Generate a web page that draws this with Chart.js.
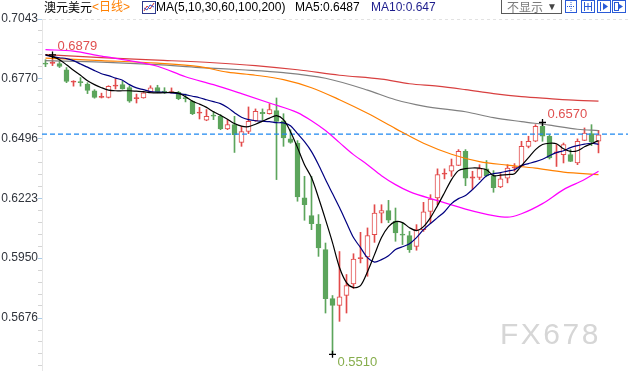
<!DOCTYPE html>
<html>
<head>
<meta charset="utf-8">
<script src="https://cdn.jsdelivr.net/npm/chart.js@4.4.0/dist/chart.umd.min.js"></script>
<style>
  html, body { margin: 0; padding: 0; background: #fff; }
  #wrap { position: relative; width: 628px; height: 371px; overflow: hidden; font-family: "Liberation Sans", Arial, "Noto Sans CJK SC", sans-serif; }
  #box { position: absolute; left: 0; top: 0; width: 628px; height: 371px; }
  .t { position: absolute; top: 0; font-size: 12px; line-height: 14px; white-space: nowrap; color: #000; }
  .ico { position: absolute; top: 0; }
</style>
</head>
<body>
<div id="wrap">
  <div id="box"><canvas id="chartAud"></canvas></div>

  <div class="t" style="left:44px;font-family:'Noto Sans CJK SC',sans-serif;">澳元美元</div>
  <div class="t" style="left:92px;color:#ff7f00;">&lt;日线&gt;</div>
  <svg class="ico" style="left:142px;top:1px" width="14" height="13">
    <rect x="0.5" y="0.5" width="13" height="12" fill="#fff" stroke="#2f3a8c"/>
    <polyline points="2,10 5,5 8,8 12,2" fill="none" stroke="#d03030"/>
    <polyline points="2,7 5,9 8,4 12,6" fill="none" stroke="#3050d0"/>
  </svg>
  <div class="t" style="left:156px;">MA(5,10,30,60,100,200)</div>
  <div class="t" style="left:295px;">MA5:0.6487</div>
  <div class="t" style="left:371px;color:#1c1c8c;">MA10:0.647</div>

  <div style="position:absolute;left:501px;top:-1px;width:59px;height:13px;border:1px solid #5a5a5a;">
    <span style="position:absolute;left:5px;top:0;font-size:12px;line-height:13px;color:#7a7a7a;font-family:'Noto Sans CJK SC',sans-serif;">不显示</span>
    <span style="position:absolute;left:45px;top:0;font-size:10px;line-height:13px;color:#444;">▼</span>
  </div>
  <svg class="ico" style="left:565px" width="12" height="13">
    <rect x="0.5" y="0.5" width="11" height="12" fill="#fff" stroke="#2a5bd7"/>
    <line x1="6" y1="2" x2="6" y2="11" stroke="#2a5bd7" stroke-dasharray="1,1"/>
    <line x1="2" y1="6.5" x2="10" y2="6.5" stroke="#2a5bd7" stroke-dasharray="1,1"/>
  </svg>
  <svg class="ico" style="left:581px" width="14" height="13">
    <rect x="0.5" y="0.5" width="13" height="12" fill="#fff" stroke="#2a5bd7"/>
    <line x1="3.5" y1="2" x2="3.5" y2="11" stroke="#2a5bd7"/>
    <line x1="10.5" y1="2" x2="10.5" y2="11" stroke="#2a5bd7"/>
    <line x1="4" y1="6.5" x2="10" y2="6.5" stroke="#2a5bd7"/>
    <line x1="7" y1="3" x2="7" y2="10" stroke="#2a5bd7"/>
  </svg>
  <svg class="ico" style="left:597px" width="14" height="13">
    <rect x="0.5" y="0.5" width="13" height="12" fill="#fff" stroke="#2a5bd7"/>
    <line x1="3.5" y1="2" x2="3.5" y2="11" stroke="#2a5bd7"/>
    <polygon points="6,3 11,6.5 6,10" fill="#2a5bd7"/>
  </svg>
  <svg class="ico" style="left:612px" width="14" height="13">
    <rect x="0.5" y="0.5" width="13" height="12" fill="#fff" stroke="#2a5bd7"/>
    <rect x="2.5" y="2.5" width="4" height="8" fill="none" stroke="#2a5bd7"/>
    <polygon points="7,4 11,6.5 7,9" fill="#2a5bd7"/>
  </svg>

  <div style="position:absolute;left:500px;top:319px;font-size:30px;line-height:30px;color:#d6d6d6;letter-spacing:2.5px;">FX678</div>
</div>

<script>
// K线数据 (日线), 从左到右
const opens = [
  0.6841, 0.6840, 0.6839, 0.6811, 0.6754, 0.6757, 0.6746, 0.6715, 0.6685, 0.6685,
  0.6736, 0.6743, 0.6730, 0.6679, 0.6682, 0.6708, 0.6730, 0.6713, 0.6706, 0.6708,
  0.6683, 0.6667, 0.6613, 0.6580, 0.6603, 0.6598, 0.6540, 0.6560, 0.6479, 0.6529,
  0.6578, 0.6616, 0.6610, 0.6624, 0.6578, 0.6495, 0.6476, 0.6225, 0.6144, 0.6106,
  0.5989, 0.5765, 0.5734, 0.5780, 0.5832, 0.5948, 0.5955, 0.6057, 0.6156, 0.6167,
  0.6118, 0.6060, 0.6053, 0.6004, 0.6080, 0.6164, 0.6225, 0.6334, 0.6347, 0.6374,
  0.6438, 0.6316, 0.6319, 0.6358, 0.6327, 0.6275, 0.6316, 0.6362, 0.6373, 0.6461,
  0.6484, 0.6552, 0.6507, 0.6431, 0.6423, 0.6423, 0.6385, 0.6488, 0.6519, 0.6484
];
const highs = [
  0.6857, 0.6879, 0.6857, 0.6821, 0.6761, 0.6775, 0.6752, 0.6720, 0.6704, 0.6738,
  0.6769, 0.6758, 0.6738, 0.6700, 0.6712, 0.6738, 0.6740, 0.6729, 0.6728, 0.6712,
  0.6700, 0.6670, 0.6639, 0.6629, 0.6621, 0.6606, 0.6583, 0.6598, 0.6552, 0.6641,
  0.6632, 0.6632, 0.6656, 0.6682, 0.6610, 0.6537, 0.6487, 0.6324, 0.6324, 0.6149,
  0.6019, 0.5779, 0.5980, 0.5875, 0.5970, 0.6068, 0.6088, 0.6194, 0.6194, 0.6214,
  0.6179, 0.6113, 0.6072, 0.6103, 0.6205, 0.6240, 0.6358, 0.6358, 0.6403, 0.6446,
  0.6446, 0.6347, 0.6377, 0.6396, 0.6350, 0.6336, 0.6377, 0.6382, 0.6484, 0.6507,
  0.6560, 0.6570, 0.6514, 0.6469, 0.6476, 0.6446, 0.6495, 0.6545, 0.6560, 0.6534
];
const lows = [
  0.6825, 0.6830, 0.6821, 0.6752, 0.6736, 0.6736, 0.6702, 0.6681, 0.6682, 0.6682,
  0.6723, 0.6722, 0.6662, 0.6659, 0.6681, 0.6706, 0.6706, 0.6702, 0.6704, 0.6674,
  0.6664, 0.6606, 0.6586, 0.6578, 0.6583, 0.6537, 0.6537, 0.6433, 0.6461, 0.6519,
  0.6575, 0.6583, 0.6608, 0.6309, 0.6461, 0.6475, 0.6210, 0.6123, 0.6080, 0.5958,
  0.5699, 0.5510, 0.5661, 0.5699, 0.5811, 0.5928, 0.5867, 0.6022, 0.6111, 0.6112,
  0.6027, 0.6012, 0.5976, 0.5986, 0.6072, 0.6111, 0.6194, 0.6312, 0.6324, 0.6373,
  0.6281, 0.6263, 0.6309, 0.6322, 0.6251, 0.6272, 0.6294, 0.6347, 0.6367, 0.6454,
  0.6482, 0.6484, 0.6403, 0.6369, 0.6385, 0.6391, 0.6377, 0.6487, 0.6464, 0.6431
];
const closes = [
  0.6837, 0.6843, 0.6826, 0.6758, 0.6759, 0.6752, 0.6717, 0.6685, 0.6689, 0.6735,
  0.6741, 0.6723, 0.6667, 0.6683, 0.6705, 0.6728, 0.6708, 0.6709, 0.6711, 0.6679,
  0.6679, 0.6610, 0.6618, 0.6598, 0.6599, 0.6540, 0.6560, 0.6514, 0.6528, 0.6575,
  0.6621, 0.6610, 0.6629, 0.6575, 0.6499, 0.6479, 0.6230, 0.6194, 0.6108, 0.5997,
  0.5765, 0.5734, 0.5773, 0.5824, 0.5946, 0.5952, 0.6053, 0.6156, 0.6167, 0.6123,
  0.6065, 0.6055, 0.5989, 0.6080, 0.6161, 0.6220, 0.6332, 0.6338, 0.6373, 0.6438,
  0.6316, 0.6321, 0.6359, 0.6327, 0.6272, 0.6312, 0.6362, 0.6367, 0.6461, 0.6484,
  0.6552, 0.6507, 0.6408, 0.6435, 0.6469, 0.6392, 0.6484, 0.6522, 0.6481, 0.6514
];

// 均线
const ma5 = [
  0.6880, 0.6871, 0.6857, 0.6834, 0.6809, 0.6786, 0.6761, 0.6743, 0.6729, 0.6718,
  0.6715, 0.6715, 0.6715, 0.6713, 0.6711, 0.6706, 0.6705, 0.6706, 0.6708, 0.6704,
  0.6688, 0.6667, 0.6654, 0.6639, 0.6619, 0.6603, 0.6585, 0.6565, 0.6553, 0.6551,
  0.6562, 0.6576, 0.6590, 0.6601, 0.6583, 0.6528, 0.6455, 0.6377, 0.6318, 0.6226,
  0.6126, 0.6021, 0.5907, 0.5838, 0.5815, 0.5824, 0.5888, 0.5966, 0.6044, 0.6094,
  0.6117, 0.6112, 0.6089, 0.6076, 0.6094, 0.6135, 0.6190, 0.6249, 0.6309, 0.6350,
  0.6359, 0.6362, 0.6361, 0.6354, 0.6327, 0.6329, 0.6332, 0.6336, 0.6373, 0.6409,
  0.6446, 0.6469, 0.6475, 0.6473, 0.6450, 0.6438, 0.6441, 0.6459, 0.6473, 0.6487
];
const ma10 = [
  0.6878, 0.6871, 0.6866, 0.6862, 0.6853, 0.6837, 0.6823, 0.6807, 0.6793, 0.6784,
  0.6773, 0.6763, 0.6743, 0.6728, 0.6720, 0.6711, 0.6709, 0.6708, 0.6705, 0.6702,
  0.6697, 0.6690, 0.6683, 0.6674, 0.6665, 0.6656, 0.6638, 0.6615, 0.6594, 0.6583,
  0.6578, 0.6576, 0.6574, 0.6569, 0.6568, 0.6555, 0.6519, 0.6482, 0.6437, 0.6377,
  0.6309, 0.6245, 0.6181, 0.6112, 0.6044, 0.5998, 0.5952, 0.5932, 0.5943, 0.5961,
  0.5989, 0.6002, 0.6016, 0.6044, 0.6080, 0.6108, 0.6135, 0.6162, 0.6199, 0.6222,
  0.6236, 0.6263, 0.6295, 0.6327, 0.6336, 0.6341, 0.6348, 0.6354, 0.6373, 0.6382,
  0.6391, 0.6402, 0.6418, 0.6432, 0.6441, 0.6455, 0.6464, 0.6471, 0.6475, 0.6470
];
const ma30At = [0, 4, 8, 12, 16, 20, 24, 28, 32, 36, 38, 40, 42, 44, 46, 48, 50, 52, 56, 60, 64, 66, 68, 71, 74, 77, 79];
const ma30 = [0.6903, 0.6896, 0.6873, 0.6853, 0.6827, 0.6779, 0.6743, 0.6702, 0.6659, 0.6615, 0.6578, 0.6533, 0.6478, 0.6423,
  0.6377, 0.6327, 0.6286, 0.6254, 0.6213, 0.6174, 0.6144, 0.6137, 0.6153, 0.6199, 0.6263, 0.6309, 0.6347];
const ma60At = [0, 8, 16, 22, 26, 30, 34, 38, 42, 46, 50, 54, 58, 62, 66, 70, 74, 79];
const ma60 = [0.6864, 0.6853, 0.6841, 0.6825, 0.6800, 0.6786, 0.6766, 0.6729, 0.6674, 0.6612, 0.6542, 0.6475, 0.6425, 0.6391,
  0.6375, 0.6361, 0.6343, 0.6332];
const ma100At = [0, 8, 16, 22, 28, 34, 40, 46, 50, 54, 60, 64, 68, 72, 76, 79];
const ma100 = [0.6853, 0.6846, 0.6834, 0.6821, 0.6811, 0.6798, 0.6772, 0.6718, 0.6674, 0.6645, 0.6619, 0.6592, 0.6574, 0.6558, 0.6539, 0.6533];
const ma200At = [0, 8, 16, 24, 30, 36, 42, 48, 52, 56, 60, 64, 68, 72, 76, 79];
const ma200 = [0.6880, 0.6866, 0.6855, 0.6843, 0.6830, 0.6811, 0.6786, 0.6768, 0.6747, 0.6736, 0.6720, 0.6702, 0.6688, 0.6679, 0.6671, 0.6668];

// 最高/最低标记
const markAt = [1, 71, 41];
const markSide = ['high', 'high', 'low'];
const lastPrice = 0.6517;

// 纵轴刻度
const tickLabels = ['0.7043', '0.6770', '0.6496', '0.6223', '0.5950', '0.5676'];
const yMax = 0.7043;
const yMin = 0.5434;
const xMax = -0.5 + 586 / 7;

const RED = '#e24a4a';
const GREEN = '#5ca55c';

const up = closes.map((c, i) => c >= opens[i]);
const pts = (at, vals) => at.map((x, k) => ({ x: x, y: vals[k] }));
const seq = vals => vals.map((v, i) => ({ x: i, y: v }));

function maLine(data, color, smooth) {
  return {
    type: 'line', data: data, borderColor: color, borderWidth: 1.2,
    pointRadius: 0, fill: false, order: 0,
    tension: smooth ? 0 : 0.3,
    cubicInterpolationMode: smooth ? 'monotone' : 'default'
  };
}

// 最高最低价文字
const peakLabels = {
  id: 'peakLabels',
  afterDatasetsDraw(chart) {
    const { ctx, scales: { x, y } } = chart;
    ctx.save();
    ctx.font = '13px "Liberation Sans", Arial, sans-serif';
    ctx.textBaseline = 'middle';
    ctx.textAlign = 'left';
    markAt.forEach((i, k) => {
      const high = markSide[k] === 'high';
      const v = high ? highs[i] : lows[i];
      ctx.fillStyle = high ? '#e05050' : '#86ad4c';
      ctx.fillText(v.toFixed(4), x.getPixelForValue(i) + 5, y.getPixelForValue(v) + (high ? -8 : 8.5));
    });
    ctx.restore();
  }
};

const ctx = document.getElementById('chartAud').getContext('2d');
new Chart(ctx, {
  type: 'bar',
  data: {
    datasets: [
      maLine(seq(ma5), '#000000', false),
      maLine(seq(ma10), '#000080', false),
      maLine(pts(ma30At, ma30), '#ff00ff', true),
      maLine(pts(ma60At, ma60), '#ff8000', true),
      maLine(pts(ma100At, ma100), '#808080', true),
      maLine(pts(ma200At, ma200), '#d84040', true),
      {
        type: 'line',
        data: [{ x: -0.5, y: lastPrice }, { x: xMax, y: lastPrice }],
        borderColor: '#1e88f0', borderDash: [5, 3], borderWidth: 1.3,
        pointRadius: 0, order: 0
      },
      {
        type: 'line', showLine: false,
        data: markAt.map((i, k) => ({ x: i, y: markSide[k] === 'high' ? highs[i] : lows[i] })),
        pointStyle: 'cross', pointRadius: 3.5, pointHoverRadius: 0,
        borderColor: '#000', borderWidth: 1.3, order: -1
      },
      {
        data: opens.map((o, i) => ({ x: i, y: [o, closes[i]] })),
        backgroundColor: up.map((u, i) => u ? (Math.abs(closes[i] - opens[i]) < 0.0007 ? RED : '#ffffff') : GREEN),
        borderColor: up.map(u => u ? RED : GREEN),
        borderWidth: 1, borderSkipped: false,
        barThickness: 5, minBarLength: 1, grouped: false, order: 1
      },
      {
        data: highs.map((h, i) => ({ x: i, y: [lows[i], h] })),
        backgroundColor: up.map(u => u ? RED : GREEN),
        barThickness: 1, grouped: false, order: 2
      }
    ]
  },
  options: {
    responsive: true,
    maintainAspectRatio: false,
    devicePixelRatio: 1,
    animation: false,
    events: [],
    layout: { autoPadding: false, padding: { top: 19, left: 0, right: 0, bottom: 0 } },
    plugins: { legend: { display: false }, tooltip: { enabled: false } },
    scales: {
      x: { type: 'linear', display: false, min: -0.5, max: xMax, offset: false, grid: { offset: false } },
      y: {
        type: 'linear', position: 'left', min: yMin, max: yMax, beginAtZero: false,
        afterBuildTicks: scale => {
          const major = tickLabels.map(Number);
          const step = (major[0] - major[major.length - 1]) / (major.length - 1) / 5;
          const ticks = [];
          major.forEach((v, k) => {
            for (let j = 0; j < 5; j++) {
              const t = v - j * step;
              if (t > yMin) ticks.push({ value: t, isMajor: j === 0, label: tickLabels[k] });
            }
          });
          scale.ticks = ticks.sort((a, b) => a.value - b.value);
        },
        afterFit: scale => { scale.width = 42; scale.paddingTop = 0; scale.paddingBottom = 0; },
        ticks: {
          autoSkip: false, padding: 0, color: '#30343c',
          font: { family: '"Liberation Sans", Arial, sans-serif', size: 12 },
          callback: (v, i, t) => t[i].isMajor ? t[i].label : ''
        },
        grid: {
          color: c => c.tick && c.tick.value === yMax ? '#e2e2e2' : 'rgba(0,0,0,0)',
          tickColor: c => c.tick && c.tick.isMajor ? '#a9cbe8' : '#d4d4d4',
          tickLength: 4, lineWidth: 1
        },
        border: { color: '#e6e6e6', dash: [3, 3] }
      }
    }
  },
  plugins: [peakLabels]
});
</script>
</body>
</html>
